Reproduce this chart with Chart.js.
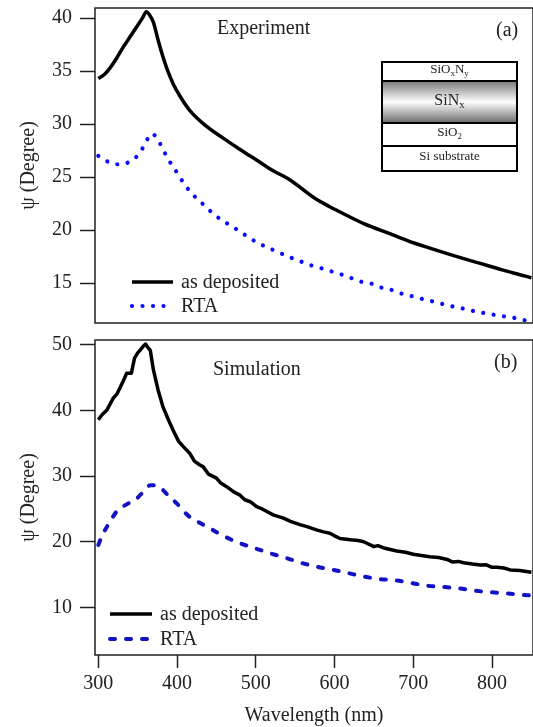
<!DOCTYPE html>
<html>
<head>
<meta charset="utf-8">
<script src="https://cdn.jsdelivr.net/npm/chart.js@4.4.0/dist/chart.umd.min.js"></script>
<style>
  html, body { margin: 0; padding: 0; background: #fff; }
  #wrap { position: relative; width: 533px; height: 727px; overflow: hidden; }
  canvas { position: absolute; left: 0; }
  #chartA { top: 0; }
  #chartB { top: 330px; }
</style>
</head>
<body>
<div id="wrap">
  <canvas id="chartA" width="533" height="330"></canvas>
  <canvas id="chartB" width="533" height="397"></canvas>
</div>
<script>
// Panel (a) - experiment
const expDepWl  = [300, 308, 315, 324, 332, 341, 349, 356, 361, 365, 370, 376, 381, 387, 395, 404, 416, 438, 459, 480, 501, 522, 544, 573, 594, 615, 637, 658, 679, 700, 721, 742, 764, 785, 806, 827, 850];
const expDepPsi = [34.3, 34.7, 35.3, 36.3, 37.3, 38.3, 39.2, 40.0, 40.6, 40.3, 39.6, 37.9, 36.6, 35.25, 33.8, 32.6, 31.3, 29.75, 28.65, 27.6, 26.6, 25.6, 24.7, 23.1, 22.2, 21.4, 20.6, 20.0, 19.4, 18.8, 18.3, 17.8, 17.3, 16.85, 16.4, 15.95, 15.5];
const expRtaWl  = [300, 315, 327, 341, 353, 360, 368, 378, 385, 392, 401, 410, 422, 435, 448, 462, 475, 489, 501, 515, 529, 541, 555, 569, 583, 596, 609, 622, 635, 649, 662, 675, 689, 702, 716, 729, 743, 756, 769, 783, 796, 810, 823, 837, 845];
const expRtaPsi = [27.0, 26.35, 26.2, 26.5, 27.3, 28.25, 29.1, 28.2, 27.2, 26.3, 25.3, 24.25, 23.2, 22.3, 21.4, 20.7, 20.1, 19.4, 18.85, 18.35, 17.9, 17.5, 17.1, 16.7, 16.4, 16.1, 15.8, 15.45, 15.1, 14.9, 14.5, 14.3, 13.9, 13.7, 13.4, 13.2, 12.9, 12.7, 12.5, 12.25, 12.1, 11.9, 11.8, 11.55, 11.45];

// Panel (b) - simulation
const simDepWl  = [300, 305, 311, 315, 319, 324, 328, 332, 336, 342, 346, 350, 353, 357, 360, 363, 366, 370, 376, 382, 389, 395, 402, 408, 416, 422, 429, 433, 440, 450, 455, 463, 472, 480, 486, 493, 501, 508, 514, 522, 530, 535, 544, 556, 565, 577, 586, 594, 600, 607, 620, 630, 637, 650, 655, 664, 679, 690, 700, 710, 721, 732, 743, 750, 757, 764, 775, 785, 792, 800, 806, 815, 823, 835, 850];
const simDepPsi = [38.6, 39.4, 40.1, 41.0, 41.9, 42.6, 43.6, 44.6, 45.7, 45.7, 48.0, 48.8, 49.2, 49.8, 50.15, 49.6, 49.2, 46.2, 43.1, 40.6, 38.6, 37.0, 35.3, 34.5, 33.5, 32.3, 31.7, 31.45, 30.3, 29.7, 29.0, 28.4, 27.6, 27.1, 26.4, 26.1, 25.35, 25.0, 24.6, 24.1, 23.8, 23.6, 23.1, 22.6, 22.3, 21.8, 21.5, 21.3, 20.9, 20.5, 20.3, 20.2, 20.0, 19.25, 19.4, 19.0, 18.6, 18.4, 18.1, 17.9, 17.7, 17.6, 17.3, 16.9, 17.0, 16.8, 16.6, 16.45, 16.5, 16.1, 16.1, 16.0, 15.7, 15.6, 15.35];
const simRtaWl  = [300, 305, 311, 318, 325, 336, 347, 357, 366, 372, 381, 390, 400, 408, 416, 427, 438, 457, 478, 499, 518, 539, 560, 577, 599, 618, 637, 658, 679, 698, 717, 738, 757, 777, 798, 817, 838, 850];
const simRtaPsi = [19.5, 21.0, 22.3, 23.7, 24.85, 25.7, 26.4, 27.6, 28.6, 28.6, 28.0, 26.9, 25.8, 24.7, 23.8, 23.0, 22.3, 21.0, 19.85, 19.0, 18.25, 17.5, 16.7, 16.2, 15.7, 15.2, 14.7, 14.3, 14.1, 13.7, 13.3, 13.1, 12.9, 12.55, 12.3, 12.15, 11.9, 11.8];

const seriesLabels = ['as deposited', 'RTA'];
const xTicks = [300, 400, 500, 600, 700, 800];
const yTicksExp = [15, 20, 25, 30, 35, 40];
const yTicksSim = [10, 20, 30, 40, 50];

const FONT = "'Liberation Serif', 'Times New Roman', serif";
const INK = '#222';

function toPoints(xs, ys) {
    return xs.map((x, i) => ({ x: x, y: ys[i] }));
}

// draw text with subscripts, centred at cx
function drawSubText(ctx, parts, cx, cy, size) {
    const sub = size * 0.68;
    let total = 0;
    parts.forEach(p => {
        ctx.font = (p[1] ? sub : size) + 'px ' + FONT;
        total += ctx.measureText(p[0]).width;
    });
    let x = cx - total / 2;
    ctx.textAlign = 'left';
    ctx.textBaseline = 'middle';
    parts.forEach(p => {
        ctx.font = (p[1] ? sub : size) + 'px ' + FONT;
        ctx.fillText(p[0], x, cy + (p[1] ? size * 0.28 : 0));
        x += ctx.measureText(p[0]).width;
    });
}

const framePlugin = {
    id: 'frame',
    afterDraw(chart) {
        const { ctx, chartArea: a } = chart;
        ctx.save();
        ctx.strokeStyle = INK;
        ctx.lineWidth = 1.5;
        ctx.strokeRect(a.left, a.top, a.right - a.left, a.bottom - a.top);
        ctx.restore();
    }
};

const decorPlugin = {
    id: 'decor',
    afterDraw(chart, args, opts) {
        const ctx = chart.ctx;
        ctx.save();
        ctx.fillStyle = INK;
        ctx.font = '20px ' + FONT;
        ctx.textBaseline = 'middle';
        ctx.textAlign = 'left';
        ctx.fillText(opts.title, opts.titleX, opts.titleY);
        ctx.fillText(opts.tag, opts.tagX, opts.tagY);

        // legend drawn from the datasets' own styles
        chart.data.datasets.forEach((ds, i) => {
            const y = opts.legendY + i * opts.legendGap;
            ctx.save();
            ctx.strokeStyle = ds.borderColor;
            ctx.lineWidth = ds.borderWidth;
            ctx.lineCap = ds.borderCapStyle || 'butt';
            ctx.setLineDash(ds.borderDash || []);
            ctx.beginPath();
            ctx.moveTo(opts.legendX, y);
            ctx.lineTo(opts.legendX + opts.sampleLen, y);
            ctx.stroke();
            ctx.restore();
            ctx.fillStyle = INK;
            ctx.font = '20px ' + FONT;
            ctx.textAlign = 'left';
            ctx.textBaseline = 'middle';
            ctx.fillText(ds.label, opts.legendX + opts.sampleLen + 8, y + 1);
        });

        if (opts.inset) {
            const L = 382, R = 517;
            const rows = [62, 81, 123, 146, 171];
            const g = ctx.createLinearGradient(0, rows[1], 0, rows[2]);
            g.addColorStop(0, '#7a7a7a');
            g.addColorStop(0.5, '#ffffff');
            g.addColorStop(1, '#6a6a6a');
            ctx.fillStyle = '#fff';
            ctx.fillRect(L, rows[0], R - L, rows[4] - rows[0]);
            ctx.fillStyle = g;
            ctx.fillRect(L, rows[1], R - L, rows[2] - rows[1]);
            ctx.strokeStyle = '#000';
            ctx.lineWidth = 2;
            ctx.strokeRect(L, rows[0], R - L, rows[4] - rows[0]);
            for (let k = 1; k < 4; k++) {
                ctx.beginPath();
                ctx.moveTo(L, rows[k]);
                ctx.lineTo(R, rows[k]);
                ctx.stroke();
            }
            ctx.fillStyle = INK;
            const cx = (L + R) / 2;
            drawSubText(ctx, [['SiO', 0], ['x', 1], ['N', 0], ['y', 1]], cx, 70, 13);
            drawSubText(ctx, [['SiN', 0], ['x', 1]], cx, 101, 16);
            drawSubText(ctx, [['SiO', 0], ['2', 1]], cx, 133, 13);
            drawSubText(ctx, [['Si substrate', 0]], cx, 157, 13);
        }
        ctx.restore();
    }
};

function yAxis(min, max, tickValues) {
    return {
        type: 'linear',
        min: min,
        max: max,
        afterBuildTicks: s => { s.ticks = tickValues.map(v => ({ value: v })); },
        afterFit: s => { s.width = 95; s.paddingTop = 0; s.paddingBottom = 0; },
        border: { display: false },
        grid: { drawOnChartArea: false, tickLength: 15, tickColor: INK, tickWidth: 1.5 },
        ticks: { color: INK, padding: 8, font: { family: FONT, size: 20 } },
        title: {
            display: true,
            text: 'ψ (Degree)',
            color: INK,
            padding: { top: 17, bottom: 0 },
            font: { family: FONT, size: 20 }
        }
    };
}

function lineDataset(label, pts, kind) {
    if (kind === 'solid') {
        return {
            label: label, data: pts, borderColor: '#000', borderWidth: 3.5,
            borderJoinStyle: 'round', borderCapStyle: 'butt', pointRadius: 0,
            cubicInterpolationMode: 'monotone'
        };
    }
    if (kind === 'dotted') {
        return {
            label: label, data: pts, borderColor: '#0a0aff', borderWidth: 4.2,
            borderDash: [0.01, 10.5], borderCapStyle: 'round', pointRadius: 0,
            cubicInterpolationMode: 'monotone'
        };
    }
    return {
        label: label, data: pts, borderColor: '#1212c4', borderWidth: 4,
        borderDash: [5, 11], borderCapStyle: 'round', pointRadius: 0,
        cubicInterpolationMode: 'monotone'
    };
}

const chartA = new Chart(document.getElementById('chartA'), {
    type: 'line',
    data: {
        datasets: [
            lineDataset(seriesLabels[0], toPoints(expDepWl, expDepPsi), 'solid'),
            lineDataset(seriesLabels[1], toPoints(expRtaWl, expRtaPsi), 'dotted')
        ]
    },
    options: {
        responsive: false,
        animation: false,
        layout: { padding: { top: 8, right: 0, bottom: 7, left: 0 } },
        plugins: {
            legend: { display: false },
            tooltip: { enabled: false },
            decor: {
                title: 'Experiment', titleX: 217, titleY: 29,
                tag: '(a)', tagX: 496, tagY: 31,
                legendX: 132, legendY: 282, legendGap: 24, sampleLen: 41,
                inset: true
            }
        },
        scales: {
            x: { type: 'linear', min: 295.8, max: 852, display: false },
            y: yAxis(11.23, 40.95, yTicksExp)
        }
    },
    plugins: [framePlugin, decorPlugin]
});

const chartB = new Chart(document.getElementById('chartB'), {
    type: 'line',
    data: {
        datasets: [
            Object.assign(lineDataset(seriesLabels[0], toPoints(simDepWl, simDepPsi), 'solid'), { tension: 0, cubicInterpolationMode: 'default' }),
            lineDataset(seriesLabels[1], toPoints(simRtaWl, simRtaPsi), 'dashed')
        ]
    },
    options: {
        responsive: false,
        animation: false,
        layout: { padding: { top: 10, right: 0, bottom: 0, left: 0 } },
        plugins: {
            legend: { display: false },
            tooltip: { enabled: false },
            decor: {
                title: 'Simulation', titleX: 213, titleY: 40,
                tag: '(b)', tagX: 494, tagY: 33,
                legendX: 110, legendY: 284, legendGap: 25, sampleLen: 42,
                inset: false
            }
        },
        scales: {
            x: {
                type: 'linear',
                min: 295.8,
                max: 852,
                afterBuildTicks: s => { s.ticks = xTicks.map(v => ({ value: v })); },
                afterFit: s => { s.height = 72; s.paddingLeft = 0; s.paddingRight = 0; },
                border: { display: false },
                grid: { drawOnChartArea: false, tickLength: 13, tickColor: INK, tickWidth: 1.5 },
                ticks: { color: INK, padding: 4, maxRotation: 0, font: { family: FONT, size: 20 } },
                title: {
                    display: true,
                    text: 'Wavelength (nm)',
                    color: INK,
                    padding: { top: 0, bottom: 1 },
                    font: { family: FONT, size: 20, lineHeight: 1 }
                }
            },
            y: yAxis(2.73, 50.76, yTicksSim)
        }
    },
    plugins: [framePlugin, decorPlugin]
});
</script>
</body>
</html>
